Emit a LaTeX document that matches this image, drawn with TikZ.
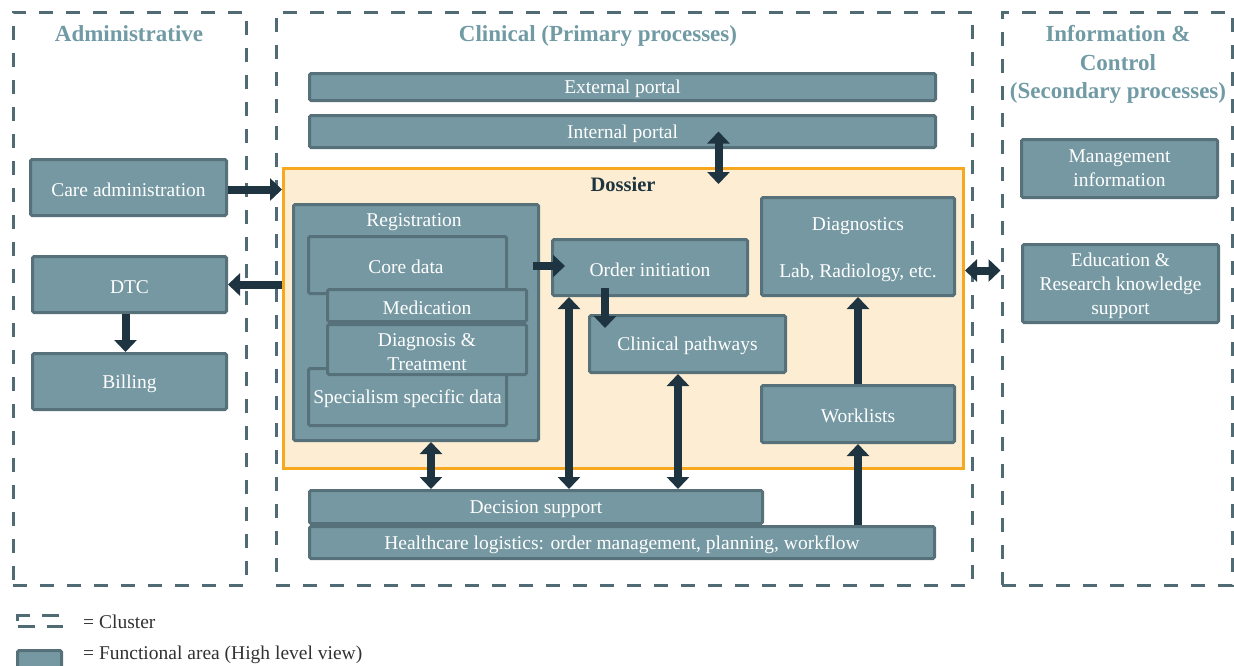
\documentclass[tikz,border=0pt]{standalone}
\usepackage{fontspec}
\setmainfont{Liberation Serif}
\usetikzlibrary{arrows.meta,calc}

\definecolor{boxfill}{RGB}{117,152,162}
\definecolor{boxline}{RGB}{86,113,121}
\definecolor{clusterline}{RGB}{80,107,115}
\definecolor{titlecol}{RGB}{112,154,164}
\definecolor{arrowcol}{RGB}{30,52,64}
\definecolor{dossfill}{RGB}{253,238,211}
\definecolor{dossline}{RGB}{247,168,30}
\definecolor{legendtext}{RGB}{50,50,50}

% taller first line so that box texts sit slightly lower
\newcommand{\firstlinestrut}{\rule{0pt}{17.5pt}}
\newcommand{\tallstrut}{\rule{0pt}{20pt}}

\begin{document}
\begin{tikzpicture}[x=1pt,y=-1pt,
  area/.style={draw=boxline,fill=boxfill,line width=3pt,rounded corners=1.5pt,
    text=white,font=\fontsize{19.5}{24}\selectfont,align=center,inner sep=0pt,
    execute at begin node=\firstlinestrut},
  areatext/.style={text=white,font=\fontsize{19.5}{24}\selectfont,inner sep=0pt,
    execute at begin node=\firstlinestrut},
  cluster/.style={draw=clusterline,line width=3pt,dash pattern=on 14pt off 13pt,inner sep=0pt},
  clustertitle/.style={text=titlecol,font=\bfseries\fontsize{23}{28.5}\selectfont,align=center,inner sep=0pt},
  flow/.style={draw=arrowcol,line width=8pt,-{Triangle[width=22pt,length=12pt]}},
  biflow/.style={draw=arrowcol,line width=8pt,{Triangle[width=22pt,length=12pt]}-{Triangle[width=22pt,length=12pt]}},
  legendlabel/.style={text=legendtext,font=\fontsize{19.5}{22}\selectfont,anchor=west,inner sep=0pt},
]
\useasboundingbox (0,0) rectangle (1234,665);

% clusters
\node[cluster,minimum width=233pt,minimum height=573pt] (admincl) at (129.5,298.5) {};
\node[cluster,minimum width=696pt,minimum height=573pt] (clincl) at (624,298.5) {};
\node[cluster,minimum width=230pt,minimum height=573pt] (infocl) at (1117,298.5) {};

\node[clustertitle] (admint) at (129,34) {Administrative};
\node[clustertitle] (clint) at (598,36) {Clinical (Primary processes)};
\node[clustertitle] (infot) at (1118,64.5) {Information \&\\Control\\(Secondary processes)};

% administrative areas
\node[area,minimum width=196pt,minimum height=56pt] (care) at (128.5,187.5) {Care administration};
\node[area,minimum width=194pt,minimum height=56pt] (dtc) at (129.5,284.5) {DTC};
\node[area,minimum width=194pt,minimum height=56pt] (billing) at (129.5,381.5) {Billing};

% portals
\node[area,minimum width=626pt,minimum height=27pt] (extport) at (622.5,87) {External portal};
\node[area,minimum width=626pt,minimum height=32pt] (intport) at (622.5,131.5) {Internal portal};

% dossier
\node[draw=dossline,fill=dossfill,line width=3pt,minimum width=680pt,minimum height=300pt,inner sep=0pt] (dossier) at (623.5,318.5) {};
\node[text=arrowcol,font=\bfseries\fontsize{20.5}{24}\selectfont,inner sep=0pt] (dosslbl) at (623,184) {Dossier};

% registration group
\node[area,minimum width=245pt,minimum height=236pt] (reg) at (416,322.5) {};
\node[areatext] (reglbl) at (414,220) {Registration};
\node[area,minimum width=198pt,minimum height=57pt] (core) at (407.5,265) {};
\node[areatext] (coretxt) at (406,265) {Core data};
\node[area,minimum width=198pt,minimum height=57pt] (spec) at (407.5,397) {Specialism specific data};
\node[area,minimum width=199pt,minimum height=32pt] (med) at (427,305.5) {Medication};
\node[area,minimum width=199pt,minimum height=50pt] (diagtr) at (427,349.5) {\firstlinestrut Diagnosis \&\\Treatment};

% clinical areas inside the dossier
\node[area,minimum width=195pt,minimum height=56pt] (order) at (650,267.5) {Order initiation};
\node[area,minimum width=196pt,minimum height=57pt] (clinpath) at (687.5,344) {Clinical pathways};
\node[area,minimum width=193pt,minimum height=98pt] (diagn) at (858,246.5) {\tallstrut Diagnostics\\[23pt]Lab, Radiology, etc.};
\node[area,minimum width=193pt,minimum height=57pt] (worklists) at (858,414) {Worklists};

% support layers
\node[area,minimum width=625pt,minimum height=32pt] (hclog) at (622,542.5) {Healthcare logistics: order management, planning, workflow};
\node[area,minimum width=453pt,minimum height=33pt] (decision) at (536,507) {Decision support};

% information & control areas
\node[area,minimum width=196pt,minimum height=58pt] (mgmt) at (1119.5,168.5) {Management\\information};
\node[area,minimum width=196pt,minimum height=78pt] (edu) at (1120.5,283.5) {\firstlinestrut Education \&\\Research knowledge\\support};

% helper points for vertical connectors
\coordinate (ocx) at ($(order.south)+(-45,0)$);
\coordinate (odx) at ($(order.south west)+(18,0)$);
\coordinate (cpx) at ($(clinpath.south west)+(90,0)$);
\coordinate (rgx) at ($(reg.south west)+(139,0)$);
\coordinate (edy) at ($(edu.west)+(0,-13)$);
\coordinate (ipx) at ($(intport.center)+(96,0)$);

% connectors
\draw[flow] ($(care.east)+(0,2)$) -- ($(care.east -| dossier.west)+(0,2)$);
\draw[flow] (dtc.east -| dossier.west) -- (dtc.east);
\draw[flow] ($(dtc.south)+(-4,0)$) -- ($(billing.north)+(-4,0)$);
\draw[biflow] (ipx) -- (ipx |- dosslbl.center);
\draw[flow] ($(core.east)+(25,1)$) -- ($(order.west |- core.east)+(14,1)$);
\draw[flow] ($(ocx)+(0,-9)$) -- ($(ocx |- clinpath.north)+(0,14)$);
\draw[biflow] (odx |- decision.north) -- (odx);
\draw[biflow] (cpx) -- (cpx |- decision.north);
\draw[biflow] (rgx) -- (rgx |- decision.north);
\draw[flow] (worklists.north) -- (diagn.south);
\draw[flow] (worklists.south |- hclog.north) -- (worklists.south);
\draw[biflow] (edy -| dossier.east) -- (edy -| infocl.west);

% legend
\node[cluster,dash pattern=on 17pt off 12pt,minimum width=44pt,minimum height=11pt] (legcl) at (39.5,621) {};
\node[legendlabel] (legcltxt) at (83,622) {= Cluster};
\node[area,minimum width=44pt,minimum height=19pt] (legfa) at (39.5,660) {};
\node[legendlabel] (legfatxt) at (83,655) {= Functional area (High level view)};
\end{tikzpicture}
\end{document}
